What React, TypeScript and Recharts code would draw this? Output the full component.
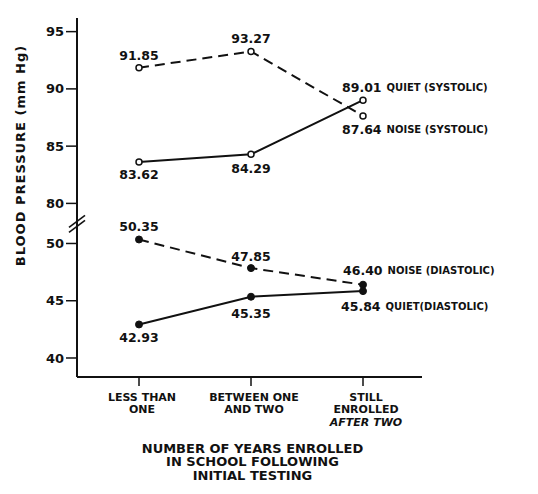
import React from "react";
import {
  LineChart,
  Line,
  XAxis,
  YAxis,
  LabelList,
  ReferenceLine,
} from "recharts";

const FONT = "'DejaVu Sans', sans-serif";

// categories (x) and their printed lines
const categories = ["LESS THAN ONE", "BETWEEN ONE AND TWO", "STILL ENROLLED AFTER TWO"];
const categoryLines = [
  ["LESS THAN", "ONE"],
  ["BETWEEN ONE", "AND TWO"],
  ["STILL", "ENROLLED", "AFTER TWO"],
];

// blood pressure, mm Hg
const noiseSystolic = [91.85, 93.27, 87.64];
const quietSystolic = [83.62, 84.29, 89.01];
const noiseDiastolic = [50.35, 47.85, 46.4];
const quietDiastolic = [42.93, 45.35, 45.84];

const yTickValues = [40, 45, 50, 80, 85, 90, 95];

const seriesTags = ["NOISE (SYSTOLIC)", "QUIET (SYSTOLIC)", "NOISE (DIASTOLIC)", "QUIET(DIASTOLIC)"];

// broken axis: 50..80 collapsed into a small gap
const BREAK_LOW = 50;
const BREAK_HIGH = 80;
const GAP = 3.5;
const toAxis = (v: number) => (v >= BREAK_HIGH - 10 ? v - (BREAK_HIGH - BREAK_LOW) + GAP : v);
const fromAxis = (u: number) => (u > BREAK_LOW + GAP / 2 ? u + (BREAK_HIGH - BREAK_LOW) - GAP : u);

const data = categories.map((name, i) => ({
  name,
  noiseSys: toAxis(noiseSystolic[i]),
  quietSys: toAxis(quietSystolic[i]),
  noiseDia: toAxis(noiseDiastolic[i]),
  quietDia: toAxis(quietDiastolic[i]),
  noiseSysRaw: noiseSystolic[i],
  quietSysRaw: quietSystolic[i],
  noiseDiaRaw: noiseDiastolic[i],
  quietDiaRaw: quietDiastolic[i],
}));

// label offsets relative to each point: [dx, dy]; last point is anchored at start
type Offset = [number, number];
const placements: Offset[][] = [
  [[0, -13], [0, -13], [-21, 13]],
  [[0, 12], [0, 14], [-21, -13]],
  [[0, -13], [0, -12], [-20, -15]],
  [[0, 13], [0, 16], [-22, 15]],
];

const makeLabel = (series: number) => (props: any) => {
  const { x, y, value, index } = props;
  const [dx, dy] = placements[series][index];
  const txt = Number(value).toFixed(2);
  const last = index === categories.length - 1;
  return (
    <text
      x={x + dx}
      y={y + dy}
      textAnchor={last ? "start" : "middle"}
      dominantBaseline="central"
      fontFamily={FONT}
      fontWeight={700}
      fill="#111"
    >
      <tspan fontSize={12.5}>{txt}</tspan>
      {last && (
        <tspan fontSize={10} dx={5}>
          {seriesTags[series]}
        </tspan>
      )}
    </text>
  );
};

const CategoryTick = (props: any) => {
  const { x, y, payload } = props;
  const idx = categories.indexOf(payload.value);
  const lines = categoryLines[idx] || [];
  return (
    <g>
      {lines.map((ln, i) => (
        <text
          key={ln}
          x={x + 3}
          y={y + 11 + i * 12.5}
          textAnchor="middle"
          dominantBaseline="central"
          fontFamily={FONT}
          fontSize={11}
          fontWeight={700}
          fontStyle={idx === 2 && i === 2 ? "italic" : "normal"}
          fill="#111"
        >
          {ln}
        </text>
      ))}
    </g>
  );
};

const XTitle = (props: any) => {
  const { viewBox } = props;
  const cx = viewBox.x + viewBox.width / 2 + 3;
  const lines = ["NUMBER OF YEARS ENROLLED", "IN SCHOOL FOLLOWING", "INITIAL TESTING"];
  return (
    <g>
      {lines.map((ln, i) => (
        <text
          key={ln}
          x={cx}
          y={448 + i * 13.7}
          textAnchor="middle"
          dominantBaseline="central"
          fontFamily={FONT}
          fontSize={13}
          fontWeight={700}
          fill="#111"
        >
          {ln}
        </text>
      ))}
    </g>
  );
};

const YTitle = (props: any) => {
  const { viewBox } = props;
  const cx = 20;
  const cy = viewBox.y + viewBox.height / 2 - 42;
  return (
    <text
      x={cx}
      y={cy}
      transform={`rotate(-90, ${cx}, ${cy})`}
      textAnchor="middle"
      dominantBaseline="central"
      fontFamily={FONT}
      fontSize={13}
      fontWeight={700}
      letterSpacing={1}
      fill="#111"
    >
      BLOOD PRESSURE (mm Hg)
    </text>
  );
};

const BreakMark = (props: any) => {
  const { viewBox } = props;
  const x = viewBox.x;
  const y = viewBox.y;
  return (
    <g stroke="#111" strokeWidth={1.6}>
      <line x1={x - 8} y1={y + 4} x2={x + 8} y2={y - 8} />
      <line x1={x - 8} y1={y + 9} x2={x + 8} y2={y - 3} />
    </g>
  );
};

const openDot = { r: 3, fill: "#fff", stroke: "#111", strokeWidth: 1.5, strokeDasharray: "none" };
const filledDot = { r: 3.5, fill: "#111", stroke: "#111", strokeWidth: 1, strokeDasharray: "none" };

export default function App() {
  return (
    <div style={{ position: "absolute", left: 0, top: 0, background: "#fff" }}>
      <LineChart
        width={538}
        height={494}
        data={data}
        margin={{ top: 18, right: 116, left: 0, bottom: 0 }}
      >
        <XAxis
          dataKey="name"
          padding={{ left: 62, right: 59 }}
          height={117}
          tickSize={9}
          tickMargin={0}
          interval={0}
          tick={<CategoryTick />}
          axisLine={{ stroke: "#111", strokeWidth: 2 }}
          tickLine={{ stroke: "#111", strokeWidth: 1.5 }}
          label={<XTitle />}
        />
        <YAxis
          type="number"
          domain={[38.34, 69.69]}
          allowDataOverflow
          ticks={yTickValues.map(toAxis)}
          interval={0}
          tickFormatter={(u: number) => String(Math.round(fromAxis(u)))}
          width={77}
          tickSize={11}
          tickMargin={2}
          axisLine={{ stroke: "#111", strokeWidth: 2 }}
          tickLine={{ stroke: "#111", strokeWidth: 1.5 }}
          tick={{ fill: "#111", fontSize: 13, fontWeight: 700, fontFamily: FONT }}
          label={<YTitle />}
        />
        <ReferenceLine
          y={BREAK_LOW + GAP / 2}
          stroke="none"
          label={<BreakMark />}
        />
        <Line
          dataKey="noiseSys"
          stroke="#111"
          strokeWidth={2}
          strokeDasharray="10 6"
          dot={openDot}
          isAnimationActive={false}
        >
          <LabelList dataKey="noiseSysRaw" content={makeLabel(0)} />
        </Line>
        <Line
          dataKey="quietSys"
          stroke="#111"
          strokeWidth={2}
          dot={openDot}
          isAnimationActive={false}
        >
          <LabelList dataKey="quietSysRaw" content={makeLabel(1)} />
        </Line>
        <Line
          dataKey="noiseDia"
          stroke="#111"
          strokeWidth={2}
          strokeDasharray="10 6"
          dot={filledDot}
          isAnimationActive={false}
        >
          <LabelList dataKey="noiseDiaRaw" content={makeLabel(2)} />
        </Line>
        <Line
          dataKey="quietDia"
          stroke="#111"
          strokeWidth={2}
          dot={filledDot}
          isAnimationActive={false}
        >
          <LabelList dataKey="quietDiaRaw" content={makeLabel(3)} />
        </Line>
      </LineChart>
    </div>
  );
}
